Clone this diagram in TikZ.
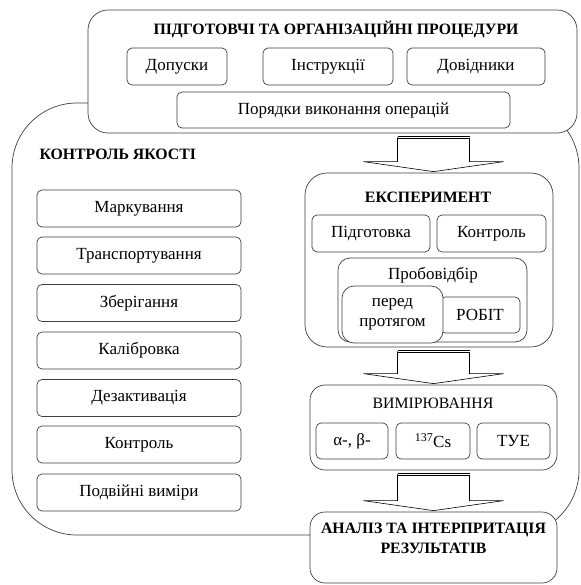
\documentclass[tikz,border=0pt]{standalone}
\usepackage{fontspec}
\setmainfont{Liberation Serif}
\usetikzlibrary{calc}

\newcommand{\blockarrow}[2]{%
  \coordinate (arrtop) at ($(#1.south -| meas.north)+(0,4)$);
  \coordinate (arrtip) at ($(#2.north -| meas.north)+(0,-1)$);
  \draw[arrowline] ($(arrtop)+(-36,0)$) -- ($(arrtip)+(-36,-10)$) -- ($(arrtip)+(-70,-10)$) -- (arrtip)
    -- ($(arrtip)+(70,-10)$) -- ($(arrtip)+(36,-10)$) -- ($(arrtop)+(36,0)$);
  \draw[arrowbar] ($(arrtop)+(-36,0)$) -- ($(arrtop)+(36,0)$);
}

\begin{document}
\begin{tikzpicture}[x=1pt, y=-1pt,
  box/.style={draw=black!75, line width=0.7pt, rounded corners=5pt, fill=white, inner sep=0pt,
    minimum height=37pt, font=\fontsize{17}{19}\selectfont},
  panel/.style={draw=black!75, line width=0.7pt, fill=white, inner sep=0pt},
  head/.style={font=\fontsize{15.8}{18}\selectfont\bfseries, align=center},
  arrowline/.style={draw=black, line width=0.6pt},
  arrowbar/.style={draw=black, double=white, double distance=1pt, line width=1pt}]
\fill[white] (0,0) rectangle (580,585);
\useasboundingbox (0,0) rectangle (580,585);

% big frames
\node[panel, rounded corners=65pt, minimum width=567pt, minimum height=432pt] (quality) at (295.5,319) {};
\node[panel, rounded corners=20pt, minimum width=489pt, minimum height=123pt] (prep) at (332.5,71.5) {};

% preparation
\node[head] (preptitle) at (336,29) {ПІДГОТОВЧІ ТА ОРГАНІЗАЦІЙНІ ПРОЦЕДУРИ};
\node[box, minimum width=100pt] (admit) at (177,66.5) {Допуски};
\node[box, minimum width=130pt] (instr) at (328,66.5) {Інструкції};
\node[box, minimum width=138pt] (refs) at (476,66.5) {Довідники};
\node[box, minimum width=333pt, minimum height=36pt] (order) at (343.5,110) {Порядки виконання операцій};

% quality control
\node[head, anchor=west] (qtitle) at (36,154) {КОНТРОЛЬ ЯКОСТІ};
\node[box, minimum width=204pt] (mark) at (139,208.5) {Маркування};
\node[box, minimum width=204pt] (transp) at (139,255.5) {Транспортування};
\node[box, minimum width=204pt] (store) at (139,303) {Зберігання};
\node[box, minimum width=204pt] (calib) at (139,350.5) {Калібровка};
\node[box, minimum width=204pt] (decon) at (139,398) {Дезактивація};
\node[box, minimum width=204pt] (check) at (139,444.5) {Контроль};
\node[box, minimum width=204pt] (double) at (139,492.5) {Подвійні виміри};

% experiment
\node[panel, rounded corners=22pt, minimum width=248pt, minimum height=174pt] (exp) at (429,260) {};
\node[head] (exptitle) at (428,197) {ЕКСПЕРИМЕНТ};
\node[box, minimum width=118pt] (prepare) at (371,233.5) {Підготовка};
\node[box, minimum width=109pt] (expcheck) at (491.5,233.5) {Контроль};
\node[panel, rounded corners=12pt, minimum width=189pt, minimum height=84pt] (sampling) at (432.5,300) {};
\node[font=\fontsize{17}{19}\selectfont] (samptitle) at (433,275) {Пробовідбір};
\node[box, minimum width=80pt, minimum height=36pt] (robit) at (480,315) {РОБІТ};
\node[box, rounded corners=12pt, minimum width=101pt, minimum height=57pt, align=center,
  font=\fontsize{17}{20}\selectfont] (before) at (392.5,314.5) {перед\\протягом};

% measurement
\node[panel, rounded corners=15pt, minimum width=247pt, minimum height=85pt] (meas) at (433.5,427.5) {};
\node[font=\fontsize{15.8}{18}\selectfont] (meastitle) at (433,403) {ВИМІРЮВАННЯ};
\node[box, minimum width=72pt, minimum height=36pt] (alpha) at (352,441) {α-, β-};
\node[box, minimum width=74pt, minimum height=36pt] (cs) at (433,441) {\textsuperscript{137}Cs};
\node[box, minimum width=73pt, minimum height=36pt] (tue) at (513.5,441) {ТУЕ};

% analysis
\node[panel, rounded corners=15pt, minimum width=247pt, minimum height=71pt] (analysis) at (433.5,547.5) {};
\node[head, font=\fontsize{15.8}{20}\selectfont\bfseries] (antitle) at (433.5,538) {АНАЛІЗ ТА ІНТЕРПРИТАЦІЯ\\РЕЗУЛЬТАТІВ};

% arrows
\blockarrow{prep}{exp}
\blockarrow{exp}{meas}
\blockarrow{meas}{analysis}
\end{tikzpicture}
\end{document}
